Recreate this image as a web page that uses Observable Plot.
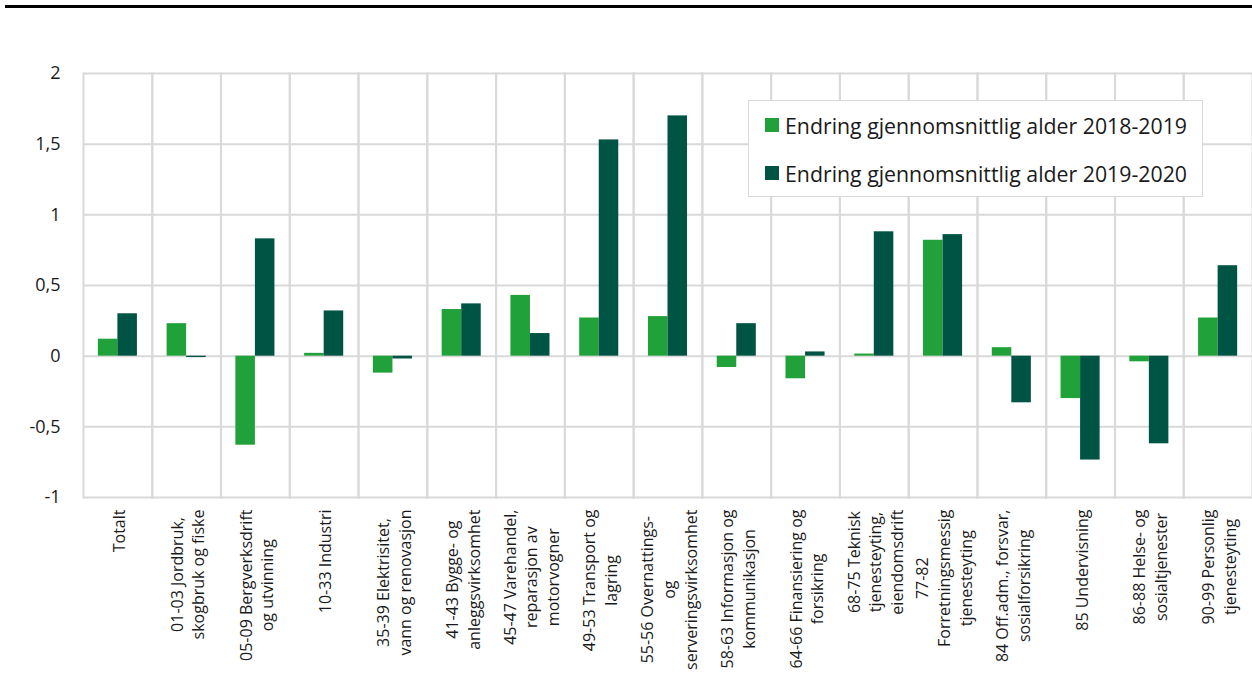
<!DOCTYPE html>
<html><head><meta charset="utf-8">
<script src="https://cdn.jsdelivr.net/npm/d3@7"></script>
<script src="https://cdn.jsdelivr.net/npm/@observablehq/plot@0.6"></script>
<style>
body{margin:0;background:#fff;font-family:"Open Sans",sans-serif;}
#wrap{position:relative;width:1252px;height:673px;overflow:hidden;background:#fff}
#topline{position:absolute;left:5px;top:5px;width:1247px;height:3px;background:#000}
#legend{position:absolute;left:748px;top:100px;width:453px;height:95px;border:1.5px solid #d9d9d9;background:#fff;}
.item{position:absolute;left:16px;height:28px;display:flex;align-items:center;font-size:21.3px;color:#1a1a1a;white-space:nowrap}
.sw{width:14px;height:14px;margin-right:6px;flex:none}
</style>
</head><body>
<div id="wrap"><div id="topline"></div></div>
<script>
const categories = [
  "Totalt",
  "01-03 Jordbruk,\nskogbruk og fiske",
  "05-09 Bergverksdrift\nog utvinning",
  "10-33 Industri",
  "35-39 Elektrisitet,\nvann og renovasjon",
  "41-43 Bygge- og\nanleggsvirksomhet",
  "45-47 Varehandel,\nreparasjon av\nmotorvogner",
  "49-53 Transport og\nlagring",
  "55-56 Overnattings-\nog\nserveringsvirksomhet",
  "58-63 Informasjon og\nkommunikasjon",
  "64-66 Finansiering og\nforsikring",
  "68-75 Teknisk\ntjenesteyting,\neiendomsdrift",
  "77-82\nForretningsmessig\ntjenesteyting",
  "84 Off.adm., forsvar,\nsosialforsikring",
  "85 Undervisning",
  "86-88 Helse- og\nsosialtjenester",
  "90-99 Personlig\ntjenesteyting"
];
const series = ["Endring gjennomsnittlig alder 2018-2019", "Endring gjennomsnittlig alder 2019-2020"];
const values2019 = [0.12, 0.23, -0.63, 0.02, -0.12, 0.33, 0.43, 0.27, 0.28, -0.08, -0.16, 0.015, 0.82, 0.06, -0.30, -0.04, 0.27];
const values2020 = [0.30, -0.01, 0.83, 0.32, -0.02, 0.37, 0.16, 1.53, 1.70, 0.23, 0.03, 0.88, 0.86, -0.33, -0.735, -0.62, 0.64];
const colors = ["#21a139", "#005444"];
const yTicks = [-1, -0.5, 0, 0.5, 1, 1.5, 2];

const rows = categories.flatMap((c, i) => [
  {cat: c, s: series[0], v: values2019[i]},
  {cat: c, s: series[1], v: values2020[i]}
]);

const grid = "#d9d9d9";
const chart = Plot.plot({
  width: 1252, height: 673,
  marginTop: 73, marginBottom: 176, marginLeft: 83, marginRight: 0,
  style: {fontFamily: "'Open Sans', sans-serif", color: "#1a1a1a", background: "white", overflow: "visible"},
  fx: {domain: categories, paddingInner: 0, paddingOuter: 0, round: false, axis: null, label: null},
  x: {domain: series, paddingInner: 0, paddingOuter: 0.76, round: false, axis: null, label: null},
  y: {domain: [-1, 2], axis: null, label: null},
  color: {domain: series, range: colors},
  marks: [
    Plot.ruleY(yTicks, {stroke: grid, strokeWidth: 2}),
    Plot.frame({anchor: "left", stroke: grid, strokeWidth: 2}),
    Plot.frame({anchor: "right", stroke: grid, strokeWidth: 2}),
    Plot.barY(rows, {fx: "cat", x: "s", y: "v", fill: "s"}),
    Plot.axisY({ticks: yTicks, label: null, tickFormat: d => String(d).replace(".", ","), tickSize: 0, tickPadding: 23, fontSize: 18}),
    Plot.text(categories, {fx: d => d, text: d => d, frameAnchor: "bottom", dy: 12, rotate: -90,
      textAnchor: "end", lineAnchor: "middle", fontSize: 16, lineHeight: 1.36, fill: "#1a1a1a"})
  ]
});
const wrap = document.getElementById("wrap");
wrap.insertBefore(chart, wrap.firstChild);
chart.style.position = "absolute"; chart.style.left = "0"; chart.style.top = "0";
chart.querySelectorAll("text").forEach(t => {
  const tr = t.getAttribute("transform") || "";
  if (!tr.includes("rotate")) return;
  const spans = [...t.querySelectorAll("tspan")];
  if (spans.length < 2) return;
  const lens = spans.map(s => s.getComputedTextLength());
  const m = Math.max(...lens);
  spans.forEach((s, i) => s.setAttribute("x", -(m - lens[i]) / 2));
});

const legend = document.createElement("div");
legend.id = "legend";
series.forEach((s, i) => {
  const it = document.createElement("div");
  it.className = "item";
  it.style.top = (i === 0 ? 10 : 58) + "px";
  const sw = document.createElement("span");
  sw.className = "sw"; sw.style.background = colors[i];
  const tx = document.createElement("span");
  tx.textContent = s;
  it.appendChild(sw); it.appendChild(tx);
  legend.appendChild(it);
});
wrap.appendChild(legend);
</script>
</body></html>
